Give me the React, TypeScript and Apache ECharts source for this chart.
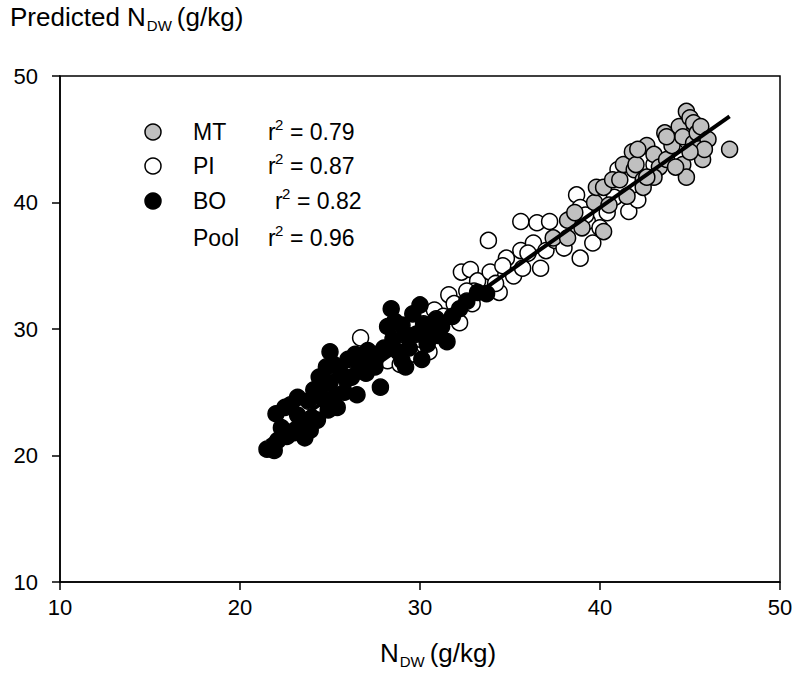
import React, { useEffect, useRef } from "react";
import * as echarts from "echarts";

const xTicks = [10, 20, 30, 40, 50];
const yTicks = [10, 20, 30, 40, 50];

const seriesNames = ["MT", "PI", "BO"];
const r2Labels = ["0.79", "0.87", "0.82", "0.96"];

const boPoints: number[][] = [
  [21.5, 20.5], [21.9, 20.4], [22.0, 23.3], [22.3, 22.2], [22.6, 21.5], [23.0, 21.8],
  [22.8, 24.0], [23.2, 23.2], [23.5, 22.5], [23.8, 24.3], [24.0, 23.0], [24.3, 22.8],
  [24.1, 25.2], [24.4, 26.2], [24.6, 24.5], [24.8, 27.0], [25.0, 28.2], [25.0, 25.8],
  [25.3, 24.8], [25.4, 23.8], [25.6, 26.5], [25.8, 25.0], [26.0, 27.6], [26.2, 26.2],
  [26.5, 24.8], [26.8, 27.5], [27.0, 26.5], [27.3, 27.8], [27.5, 27.0], [27.8, 25.4],
  [28.0, 28.5], [28.2, 30.2], [28.4, 31.6], [28.5, 29.2], [28.8, 28.2], [29.0, 30.3],
  [29.2, 27.0], [29.4, 28.5], [29.6, 31.2], [29.8, 29.6], [30.0, 31.9], [30.2, 30.4],
  [30.4, 28.8], [30.6, 29.8], [30.9, 30.8], [31.2, 30.2], [31.5, 29.0], [31.8, 31.0],
  [32.2, 31.6], [32.6, 32.2], [33.2, 32.9], [33.7, 32.8], [22.5, 23.8], [26.4, 28.0],
  [29.0, 27.5], [30.1, 27.6], [23.6, 21.4], [23.2, 24.6], [24.6, 25.6], [25.2, 27.2],
  [25.9, 26.0], [26.6, 26.8], [27.6, 28.0], [28.6, 30.6], [29.3, 29.5], [24.9, 23.6],
  [22.1, 21.2], [23.9, 22.0], [27.1, 28.3], [31.0, 29.5],
];

const piPoints: number[][] = [
  [26.7, 29.3], [28.2, 27.5], [28.9, 27.2], [29.5, 28.0], [30.0, 29.2], [30.5, 28.2],
  [31.0, 30.5], [31.6, 32.7], [32.2, 30.5], [31.9, 32.0], [32.3, 34.5], [32.8, 34.7],
  [33.2, 33.8], [33.9, 34.5], [33.8, 37.0], [34.4, 32.9], [34.2, 33.6], [34.8, 35.6],
  [35.2, 34.2], [35.6, 36.2], [35.7, 34.8], [35.6, 38.5], [36.3, 36.8], [36.5, 38.4],
  [36.7, 34.8], [37.0, 36.2], [37.2, 38.5], [37.5, 37.0], [38.0, 36.4], [38.7, 40.6],
  [38.9, 39.6], [38.9, 35.6], [39.3, 38.5], [39.6, 36.8], [40.0, 38.0], [40.4, 39.2],
  [41.0, 42.6], [41.6, 39.3], [42.1, 40.2], [40.8, 40.4], [39.2, 39.0], [36.0, 36.0],
  [34.6, 35.0], [33.0, 33.0], [30.8, 31.5], [29.2, 29.5], [27.5, 27.5], [32.6, 33.0],
  [43.0, 43.0], [44.2, 44.0], [45.5, 45.0], [31.3, 31.0], [32.9, 32.0], [30.3, 30.2],
];

const mtPoints: number[][] = [
  [37.4, 37.2], [38.2, 38.6], [38.2, 37.2], [39.0, 38.0], [39.7, 40.0], [39.8, 41.2],
  [40.2, 41.2], [40.2, 37.7], [40.7, 41.8], [41.1, 41.8], [41.3, 43.0], [41.8, 44.0],
  [41.9, 42.6], [42.4, 41.8], [42.4, 41.2], [42.6, 44.5], [43.0, 43.8], [43.3, 42.8],
  [43.6, 45.5], [43.7, 43.4], [44.0, 44.5], [44.4, 46.0], [44.6, 45.2], [44.6, 43.0],
  [44.8, 42.0], [44.8, 47.2], [45.0, 46.7], [45.2, 46.3], [45.2, 44.7], [45.4, 45.5],
  [45.6, 46.0], [45.7, 43.4], [46.0, 45.0], [45.8, 44.2], [47.2, 44.2], [45.0, 44.0],
  [44.2, 42.8], [43.0, 42.0], [42.0, 43.0], [40.5, 39.8], [38.6, 39.2], [41.5, 40.5],
  [42.1, 44.2], [43.7, 45.2], [42.6, 42.0],
];

const regressionLine: number[][] = [
  [21.5, 21.1],
  [47.2, 46.8],
];

const FONT = '"Liberation Sans", Arial, sans-serif';

function measure(text: string, size: number): number {
  const c = document.createElement("canvas").getContext("2d");
  if (!c) return text.length * size * 0.55;
  c.font = `${size}px ${FONT}`;
  return c.measureText(text).width;
}

function subLabel(main: string, sub: string, rest: string, x: number, y: number, centered: boolean) {
  const big = 26;
  const small = 15;
  const w1 = measure(main, big);
  const w2 = measure(sub, small);
  const w3 = measure(rest, big);
  const total = w1 + 1 + w2 + 5 + w3;
  const x0 = centered ? x - total / 2 : x;
  const st = { fill: "#000", fontFamily: FONT, textVerticalAlign: "middle" as const };
  return [
    { type: "text", left: x0, top: y - 15, style: { ...st, text: main, fontSize: big } },
    { type: "text", left: x0 + w1 + 1, top: y - 1, style: { ...st, text: sub, fontSize: small } },
    { type: "text", left: x0 + w1 + 1 + w2 + 5, top: y - 15, style: { ...st, text: rest, fontSize: big } },
  ];
}

export default function App() {
  const ref = useRef<HTMLDivElement>(null);
  useEffect(() => {
    if (!ref.current) return;
    const chart = echarts.init(ref.current, null, { renderer: "svg" });

    const markerStyle = (fill: string) => ({ color: fill, borderColor: "#000", borderWidth: 1.5, opacity: 1 });
    const fills = ["#c0c0c0", "#ffffff", "#000000"];
    const rowY = [132, 166, 201, 238];
    const r2X = [268, 268, 275, 268];
    const legendText: any[] = [];
    const textSt = { fill: "#000", fontFamily: FONT, fontSize: 23, textVerticalAlign: "middle" as const };
    for (let i = 0; i < 4; i++) {
      if (i < 3) {
        legendText.push({
          type: "circle",
          shape: { cx: 153, cy: rowY[i], r: 8 },
          style: { fill: fills[i], stroke: "#000", lineWidth: 1.5 },
        });
      }
      legendText.push({ type: "text", x: 193, y: rowY[i], style: { ...textSt, text: i < 3 ? seriesNames[i] : "Pool" } });
      legendText.push({ type: "text", x: r2X[i], y: rowY[i], style: { ...textSt, text: "r" } });
      legendText.push({ type: "text", x: r2X[i] + 7, y: rowY[i] - 8, style: { ...textSt, fontSize: 15, text: "2" } });
      legendText.push({ type: "text", x: r2X[i] + 22, y: rowY[i], style: { ...textSt, text: "= " + r2Labels[i] } });
    }

    const axisCommon = {
      type: "value" as const,
      min: 10,
      max: 50,
      interval: 10,
      axisLine: { show: true, lineStyle: { color: "#000", width: 1.5 } },
      axisTick: { show: true, length: 8, inside: false, lineStyle: { color: "#000", width: 1.5 } },
      splitLine: { show: false },
    };

    chart.setOption({
      animation: false,
      backgroundColor: "#fff",
      grid: { left: 60, right: 16, top: 76, bottom: 94, show: true, borderColor: "#000", borderWidth: 1.5, backgroundColor: "transparent" },
      xAxis: {
        ...axisCommon,
        axisLabel: { fontSize: 22, color: "#000", fontFamily: FONT, margin: 14, formatter: (v: number) => (xTicks.includes(v) ? String(v) : "") },
      },
      yAxis: {
        ...axisCommon,
        axisLabel: { fontSize: 22, color: "#000", fontFamily: FONT, margin: 22, formatter: (v: number) => (yTicks.includes(v) ? String(v) : "") },
      },
      series: [
        { name: "PI", type: "scatter", data: piPoints, symbol: "circle", symbolSize: 16, itemStyle: markerStyle("#ffffff"), z: 2 },
        { name: "BO", type: "scatter", data: boPoints, symbol: "circle", symbolSize: 16, itemStyle: markerStyle("#000000"), z: 3 },
        { name: "MT", type: "scatter", data: mtPoints, symbol: "circle", symbolSize: 16, itemStyle: markerStyle("#c0c0c0"), z: 4 },
        { name: "Pool", type: "line", data: regressionLine, symbol: "none", lineStyle: { color: "#000", width: 4 }, z: 5 },
      ],
      graphic: [
        ...subLabel("Predicted N", "DW", "(g/kg)", 10, 19, false),
        ...subLabel("N", "DW", "(g/kg)", 438, 655, true),
        ...legendText,
      ],
    });
    return () => chart.dispose();
  }, []);
  return <div ref={ref} style={{ position: "fixed", left: 0, top: 0, width: 796, height: 676 }} />;
}
